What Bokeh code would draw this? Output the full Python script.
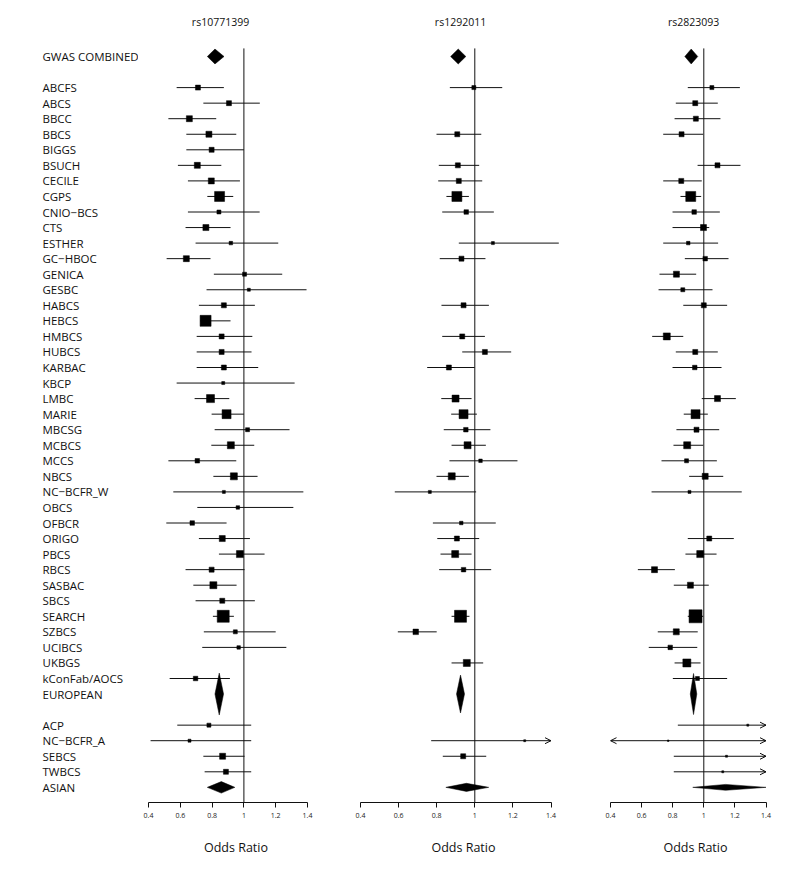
from bokeh.plotting import figure
from bokeh.layouts import row
from bokeh.models import Range1d, LinearAxis, FixedTicker, ColumnDataSource, Arrow, OpenHead
from bokeh.core.properties import value
from bokeh.embed import file_html
from bokeh.resources import INLINE

FONT = "Open Sans"

# ---------------- data ----------------
snps = ["rs10771399", "rs1292011", "rs2823093"]

studies_eu = ["ABCFS", "ABCS", "BBCC", "BBCS", "BIGGS", "BSUCH", "CECILE", "CGPS",
              "CNIO\u2212BCS", "CTS", "ESTHER", "GC\u2212HBOC", "GENICA", "GESBC", "HABCS",
              "HEBCS", "HMBCS", "HUBCS", "KARBAC", "KBCP", "LMBC", "MARIE", "MBCSG",
              "MCBCS", "MCCS", "NBCS", "NC\u2212BCFR_W", "OBCS", "OFBCR", "ORIGO", "PBCS",
              "RBCS", "SASBAC", "SBCS", "SEARCH", "SZBCS", "UCIBCS", "UKBGS", "kConFab/AOCS"]
studies_as = ["ACP", "NC\u2212BCFR_A", "SEBCS", "TWBCS"]
summary_labels = ["GWAS COMBINED", "EUROPEAN", "ASIAN"]

tick_vals = [0.4, 0.6, 0.8, 1.0, 1.2, 1.4]
tick_labels = ["0.4", "0.6", "0.8", "1", "1.2", "1.4"]

# rs10771399  (European studies then Asian studies)
or_1 = [0.711, 0.906, 0.657, 0.780, 0.797, 0.707, 0.795, 0.847, 0.843, 0.761, 0.918, 0.638, 1.004,
        1.031, 0.874, 0.759, 0.860, 0.860, 0.874, 0.870, 0.790, 0.891, 1.023, 0.918, 0.707, 0.937,
        0.874, 0.962, 0.675, 0.864, 0.975, 0.797, 0.808, 0.864, 0.870, 0.946, 0.967, None, 0.696,
        0.780, 0.658, 0.866, 0.887]
lo_1 = [0.577, 0.745, 0.525, 0.638, 0.638, 0.585, 0.648, 0.770, 0.648, 0.633, 0.696, 0.514, 0.811,
        0.765, 0.717, 0.725, 0.703, 0.703, 0.703, 0.577, 0.690, 0.797, 0.816, 0.795, 0.525, 0.808,
        0.556, 0.707, 0.512, 0.717, 0.843, 0.633, 0.682, 0.696, 0.805, 0.748, 0.738, None, 0.533,
        0.581, 0.413, 0.745, 0.753]
hi_1 = [0.874, 1.100, 0.826, 0.952, 1.000, 0.858, 0.975, 0.933, 1.099, 0.916, 1.216, 0.790, 1.241,
        1.394, 1.069, 0.916, 1.053, 1.048, 1.090, 1.319, 0.908, 1.000, 1.287, 1.065, 0.952, 1.086,
        1.374, 1.311, 0.891, 1.038, 1.130, 1.004, 0.954, 1.069, 0.937, 1.200, 1.267, None, 0.912,
        1.046, 1.046, 1.004, 1.046]
wt_1 = [5, 5, 6, 6, 5, 6, 6, 10, 4, 6, 3.5, 6, 4,
        3, 5, 11, 5, 5, 5, 3, 8, 9, 4, 7, 4.5, 7,
        3, 3.5, 4.5, 6, 7, 5, 7, 5, 12, 4, 3.5, None, 4.5,
        4, 3, 6, 5]
# summaries: GWAS COMBINED, EUROPEAN, ASIAN
sum_or_1 = [0.818, 0.845, 0.858]
sum_lo_1 = [0.770, 0.818, 0.770]
sum_hi_1 = [0.875, 0.872, 0.943]

# rs1292011
or_2 = [0.995, None, None, 0.908, None, 0.911, 0.916, 0.906, 0.955, None, 1.095, 0.930, None,
        None, 0.941, None, 0.934, 1.053, 0.864, None, 0.899, 0.941, 0.953, 0.962, 1.030, 0.879,
        0.764, None, 0.929, 0.906, 0.897, 0.941, None, None, 0.925, 0.690, None, 0.958, None,
        None, 1.262, 0.939, None]
lo_2 = [0.869, None, None, 0.799, None, 0.811, 0.808, 0.851, 0.829, None, 0.916, 0.816, None,
        None, 0.825, None, 0.829, 0.934, 0.750, None, 0.824, 0.876, 0.837, 0.878, 0.867, 0.799,
        0.580, None, 0.780, 0.803, 0.820, 0.813, None, None, 0.878, 0.596, None, 0.878, None,
        None, 0.771, 0.832, None]
hi_2 = [1.144, None, None, 1.034, None, 1.023, 1.039, 0.969, 1.100, None, 1.441, 1.056, None,
        None, 1.074, None, 1.053, 1.191, 0.999, None, 0.983, 1.011, 1.082, 1.058, 1.224, 0.969,
        1.007, None, 1.110, 1.023, 0.983, 1.086, None, None, 0.972, 0.800, None, 1.044, None,
        None, 2.070, 1.060, None]
wt_2 = [4, None, None, 5, None, 5, 5, 10, 4.5, None, 3, 5, None,
        None, 5, None, 5, 5, 5, None, 7, 9, 4.5, 7, 3.5, 7,
        3, None, 3.5, 5, 7, 4.5, None, None, 12, 5.5, None, 7, None,
        None, 2, 5, None]
sum_or_2 = [0.913, 0.925, 0.956]
sum_lo_2 = [0.873, 0.904, 0.848]
sum_hi_2 = [0.953, 0.946, 1.073]

# rs2823093
or_3 = [1.052, 0.945, 0.949, 0.857, None, 1.088, 0.855, 0.916, 0.938, 0.998, 0.900, 1.009, 0.824,
        0.865, 1.000, None, 0.762, 0.945, 0.942, None, 1.088, 0.947, 0.953, 0.893, 0.889, 1.009,
        0.908, None, None, 1.035, 0.977, 0.683, 0.914, None, 0.947, 0.823, 0.784, 0.891, 0.959,
        1.283, 0.771, 1.146, 1.122]
lo_3 = [0.897, 0.820, 0.812, 0.739, None, 0.960, 0.739, 0.850, 0.799, 0.799, 0.739, 0.878, 0.715,
        0.709, 0.868, None, 0.668, 0.820, 0.799, None, 0.987, 0.871, 0.824, 0.805, 0.728, 0.906,
        0.664, None, None, 0.897, 0.882, 0.576, 0.807, None, 0.897, 0.704, 0.646, 0.812, 0.801,
        0.833, 0.250, 0.807, 0.807]
hi_3 = [1.232, 1.090, 1.107, 0.996, None, 1.236, 0.987, 0.983, 1.103, 1.035, 1.092, 1.159, 0.951,
        1.056, 1.150, None, 0.868, 1.090, 1.114, None, 1.206, 1.026, 1.099, 0.996, 1.084, 1.125,
        1.244, None, None, 1.193, 1.082, 0.814, 1.032, None, 0.996, 0.961, 0.958, 0.979, 1.150,
        1.980, 2.400, 1.630, 1.560]
wt_3 = [4, 5, 5, 5, None, 5, 5, 10, 4.5, 6, 3.5, 4.5, 6,
        4, 5, None, 7, 5, 4.5, None, 6, 9, 5, 7, 4, 6,
        3, None, None, 5, 7, 6, 6, None, 13, 6, 4.5, 8, 4,
        2, 1.5, 2, 2]
sum_or_3 = [0.919, 0.934, 1.140]
sum_lo_3 = [0.878, 0.913, 0.929]
sum_hi_3 = [0.961, 0.955, 1.400]

# ---------------- layout / style ----------------
ROW_PX = 15.55
MB_TOP = 12
ROW0_OFFSET = 44           # px from frame top to first row
FRAME_H = 790
MB_BOTTOM = 80
HEIGHT = MB_TOP + FRAME_H + MB_BOTTOM
y_top = -ROW0_OFFSET / ROW_PX
y_bottom = y_top + FRAME_H / ROW_PX

n_eu = len(studies_eu)
n_as = len(studies_as)
rows_study = list(range(2, 2 + n_eu)) + list(range(4 + n_eu, 4 + n_eu + n_as))
rows_summary = [0, 2 + n_eu, 4 + n_eu + n_as]
all_labels = summary_labels[:1] + studies_eu + summary_labels[1:2] + studies_as + summary_labels[2:]
all_rows = rows_summary[:1] + rows_study[:n_eu] + rows_summary[1:2] + rows_study[n_eu:] + rows_summary[2:]

LIM = (0.4, 1.4)
TOL = 0.05

panels = [
    dict(or_=or_1, lo=lo_1, hi=hi_1, wt=wt_1, sor=sum_or_1, slo=sum_lo_1, shi=sum_hi_1,
         ppu=159.0, frame_w=175, mbl=10, mbr=12, title_x=0.853, dh=[0.48, 1.35, 0.37]),
    dict(or_=or_2, lo=lo_2, hi=hi_2, wt=wt_2, sor=sum_or_2, slo=sum_lo_2, shi=sum_hi_2,
         ppu=190.5, frame_w=206, mbl=25, mbr=18, title_x=0.925, dh=[0.48, 1.22, 0.26]),
    dict(or_=or_3, lo=lo_3, hi=hi_3, wt=wt_3, sor=sum_or_3, slo=sum_lo_3, shi=sum_hi_3,
         ppu=155.5, frame_w=170, mbl=26, mbr=6, title_x=0.934, dh=[0.48, 1.32, 0.19]),
]

# label column
LAB_W = 138
lab = figure(width=LAB_W, height=HEIGHT, x_range=Range1d(0, LAB_W), y_range=Range1d(y_bottom, y_top),
             x_axis_type=None, y_axis_type=None, toolbar_location=None, output_backend="svg",
             min_border_left=0, min_border_right=0, min_border_top=MB_TOP, min_border_bottom=MB_BOTTOM)
lab.outline_line_color = None
lab.grid.visible = False
lab.text(x=[42] * len(all_labels), y=all_rows, text=all_labels, text_font=value(FONT),
         text_font_size="11.5px", text_baseline="middle", text_align="left", text_color="#111111")

figs = [lab]
for k, pn in enumerate(panels):
    x_end = LIM[0] + pn["frame_w"] / pn["ppu"]
    p = figure(width=pn["mbl"] + pn["frame_w"] + pn["mbr"], height=HEIGHT,
               x_range=Range1d(LIM[0], x_end), y_range=Range1d(y_bottom, y_top),
               x_axis_type=None, y_axis_type=None, toolbar_location=None, output_backend="svg",
               min_border_left=pn["mbl"], min_border_right=pn["mbr"],
               min_border_top=MB_TOP, min_border_bottom=MB_BOTTOM)
    p.outline_line_color = None
    p.grid.visible = False

    # reference line at OR = 1
    p.segment(x0=[1.0], x1=[1.0], y0=[-0.52], y1=[y_bottom], line_color="#111111", line_width=1)

    # study CIs
    x0s, x1s, ys, px, py, ps = [], [], [], [], [], []
    right_arrows, left_arrows = [], []
    for i, r in enumerate(rows_study):
        est = pn["or_"][i]
        if est is None:
            continue
        lo, hi = pn["lo"][i], pn["hi"][i]
        if lo < LIM[0] - TOL:
            lo = LIM[0]
            left_arrows.append(r)
        if hi > LIM[1] + TOL:
            hi = LIM[1]
            right_arrows.append(r)
        x0s.append(lo); x1s.append(hi); ys.append(r)
        px.append(est); py.append(r); ps.append(pn["wt"][i])
    p.segment(x0=x0s, x1=x1s, y0=ys, y1=ys, line_color="#111111", line_width=1)
    p.scatter(x=px, y=py, size=ps, marker="square", fill_color="black", line_color="black",
              line_width=0.5)

    if right_arrows:
        src = ColumnDataSource(dict(xs=[LIM[1] - 0.01] * len(right_arrows), xe=[LIM[1]] * len(right_arrows),
                                    ys=right_arrows, ye=right_arrows))
        p.add_layout(Arrow(end=OpenHead(size=6, line_width=1, line_color="#111111"),
                           x_start="xs", y_start="ys", x_end="xe", y_end="ye", source=src,
                           line_color="#111111", line_width=1))
    if left_arrows:
        src = ColumnDataSource(dict(xs=[LIM[0] + 0.01] * len(left_arrows), xe=[LIM[0]] * len(left_arrows),
                                    ys=left_arrows, ye=left_arrows))
        p.add_layout(Arrow(end=OpenHead(size=6, line_width=1, line_color="#111111"),
                           x_start="xs", y_start="ys", x_end="xe", y_end="ye", source=src,
                           line_color="#111111", line_width=1))

    # summary diamonds
    dxs, dys = [], []
    for j, r in enumerate(rows_summary):
        e, lo, hi, h = pn["sor"][j], pn["slo"][j], pn["shi"][j], pn["dh"][j]
        dxs.append([lo, e, hi, e])
        dys.append([r, r - h, r, r + h])
    p.patches(xs=dxs, ys=dys, fill_color="black", line_color="black", line_width=0.5)

    # panel title
    p.text(x=[pn["title_x"]], y=[-2.19], text=[snps[k]], text_font=value(FONT),
           text_font_size="10.5px", text_align="center", text_baseline="middle", text_color="#111111")

    ax = LinearAxis(ticker=FixedTicker(ticks=tick_vals), bounds=LIM,
                    major_label_overrides=dict(zip(tick_vals, tick_labels)),
                    axis_label="Odds Ratio")
    ax.axis_line_color = "#111111"
    ax.major_tick_line_color = "#111111"
    ax.major_tick_out = 5
    ax.major_tick_in = 0
    ax.minor_tick_line_color = None
    ax.major_label_text_font = FONT
    ax.major_label_text_font_size = "7px"
    ax.major_label_text_color = "#222222"
    ax.major_label_standoff = 5
    ax.axis_label_text_font = FONT
    ax.axis_label_text_font_size = "12.5px"
    ax.axis_label_text_font_style = "normal"
    ax.axis_label_text_color = "#111111"
    ax.axis_label_standoff = 18
    p.add_layout(ax, "below")
    figs.append(p)

layout = row(*figs)
open("out.html", "w").write(file_html(layout, INLINE))
